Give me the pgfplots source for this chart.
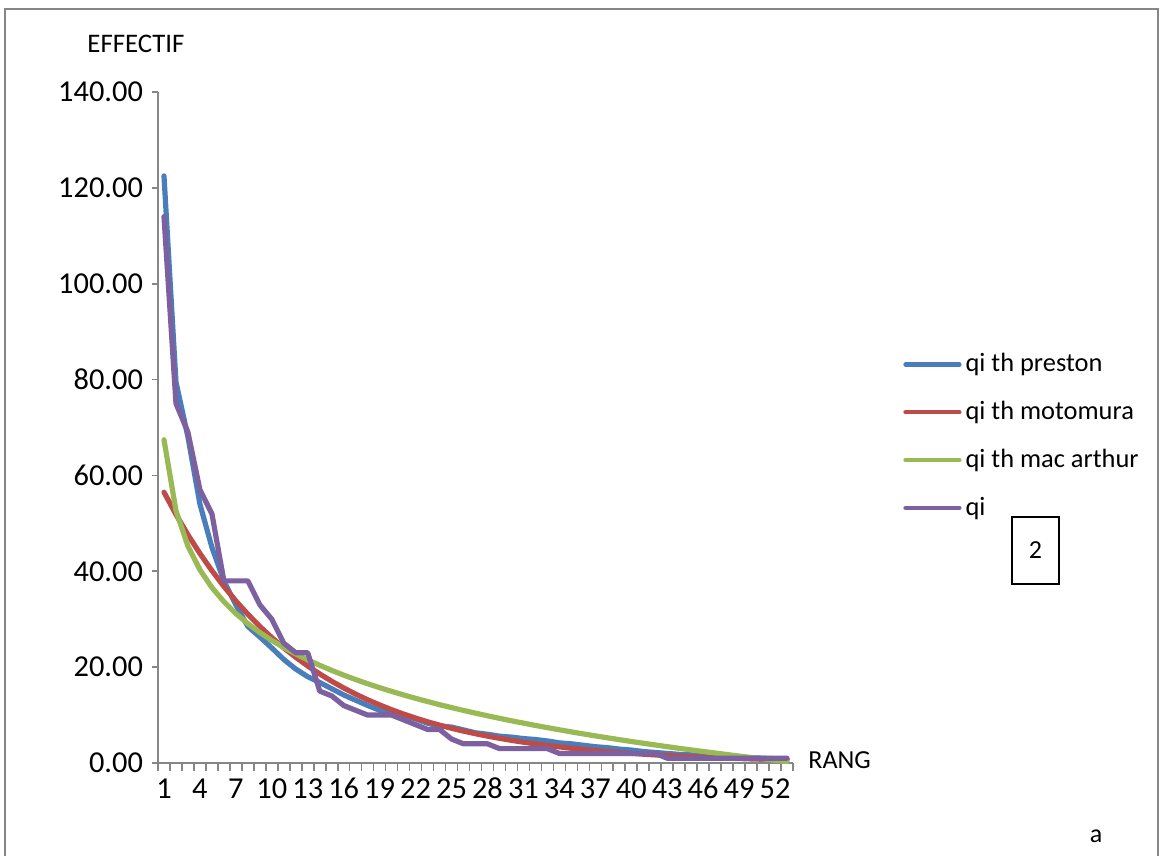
\documentclass[border=0pt]{standalone}
\usepackage{fontspec}
\setmainfont{Carlito}
\usepackage{pgfplots}
\usepackage{pgfplotstable}
\pgfplotsset{compat=1.18}
\definecolor{cblue}{HTML}{4A7EBB}
\definecolor{cred}{HTML}{BE4B48}
\definecolor{cgreen}{HTML}{98B954}
\definecolor{cpurple}{HTML}{7D60A0}
\definecolor{axgray}{HTML}{868686}
\pgfplotstableread{
k pre mot mac qi
1 122.5 56.50 67.44 114
2 79.5 51.87 52.64 75
3 68 47.61 45.24 69
4 54 43.71 40.31 57
5 45 40.13 36.61 52
6 38 36.84 33.65 38
7 33 33.81 31.18 38
8 28.5 31.04 29.07 38
9 26.3 28.50 27.22 33
10 24 26.16 25.57 30
11 21.6 24.01 24.09 25
12 19.6 22.05 22.75 23
13 18 20.24 21.51 23
14 16.8 18.58 20.38 15
15 15.5 17.05 19.32 14
16 14.2 15.66 18.33 12
17 13.1 14.37 17.41 11
18 12 13.19 16.54 10
19 11 12.11 15.71 10
20 10.4 11.12 14.94 10
21 10 10.21 14.20 9
22 9.2 9.37 13.49 8
23 8.3 8.60 12.82 7
24 7.7 7.90 12.17 7
25 7.5 7.25 11.56 5
26 6.9 6.65 10.97 4
27 6.3 6.11 10.40 4
28 6 5.61 9.85 4
29 5.6 5.15 9.32 3
30 5.4 4.73 8.81 3
31 5.1 4.34 8.32 3
32 4.9 3.98 7.84 3
33 4.6 3.66 7.38 3
34 4.2 3.36 6.93 2
35 4.0 3.08 6.49 2
36 3.7 2.83 6.07 2
37 3.4 2.60 5.66 2
38 3.2 2.38 5.26 2
39 2.9 2.19 4.87 2
40 2.7 2.01 4.49 2
41 2.4 1.84 4.12 2
42 2.2 1.69 3.76 2
43 2.0 1.55 3.41 1
44 1.8 1.43 3.06 1
45 1.7 1.31 2.73 1
46 1.6 1.20 2.40 1
47 1.4 1.10 2.08 1
48 1.3 1.01 1.76 1
49 1.2 0.93 1.45 1
50 1.1 0.85 1.15 1
51 1.0 0.78 0.85 1
52 0.9 0.72 0.56 1
53 0.8 0.66 0.28 1
}\datatable
\begin{document}
\fontsize{13}{15.6}\selectfont
\begin{tikzpicture}[x=1pt,y=1pt]
\useasboundingbox (0,0) rectangle (580.5,428);
\draw[axgray, line width=0.6pt] (2.5,0) -- (2.5,423.5) -- (579,423.5) -- (579,0);
\begin{axis}[
  at={(79pt,46.5pt)}, anchor=south west,
  width=317.5pt, height=335.5pt, scale only axis,
  xmin=0.5, xmax=53.5, ymin=0, ymax=140,
  axis lines*=left,
  axis line style={axgray, line width=0.8pt},
  tick align=outside,
  xtick={1,4,...,52},
  minor xtick={0.5,1.5,...,53.5},
  major x tick style={draw=none},
  minor x tick style={axgray, line width=0.8pt},
  minor tick length=4pt,
  major tick length=3pt,
  ytick={0,20,...,140},
  y tick style={axgray, line width=0.8pt},
  /pgf/number format/assume math mode=true,
  y tick label style={/pgf/number format/.cd, fixed, fixed zerofill, precision=2},
  tick label style={font=\fontsize{15.2}{18}\selectfont},
  x tick label style={text height=11pt, text depth=0pt, yshift=1pt},
  legend style={draw=none, fill=none, at={(1.1732,0.617)}, anchor=north west,
    font=\fontsize{13.2}{15.6}\selectfont, row sep=8.8pt, inner sep=0pt,
    /tikz/every even column/.append style={column sep=1pt}},
  legend cell align=left,
  legend image code/.code={\draw[#1, line width=2.1pt, line cap=round] (0pt,0pt) -- (27pt,0pt);},
]
\addplot[cblue, line width=2.6pt, line join=round, line cap=round] table[x=k, y=pre] {\datatable};
\addlegendentry{qi th preston}
\addplot[cred, line width=2.6pt, line join=round, line cap=round] table[x=k, y=mot] {\datatable};
\addlegendentry{qi th motomura}
\addplot[cgreen, line width=2.6pt, line join=round, line cap=round] table[x=k, y=mac] {\datatable};
\addlegendentry{qi th mac arthur}
\addplot[cpurple, line width=2.6pt, line join=round, line cap=round] table[x=k, y=qi] {\datatable};
\addlegendentry{qi}
\end{axis}
\node at (68,406) {\fontsize{13.4}{15.6}\selectfont EFFECTIF};
\node[anchor=west, inner sep=0pt] at (404,48) {RANG};
\node at (548,10) {a};
\draw[black, line width=0.6pt] (506,169.5) rectangle (529.5,136);
\node at (517.75,153) {2};
\end{tikzpicture}
\end{document}
